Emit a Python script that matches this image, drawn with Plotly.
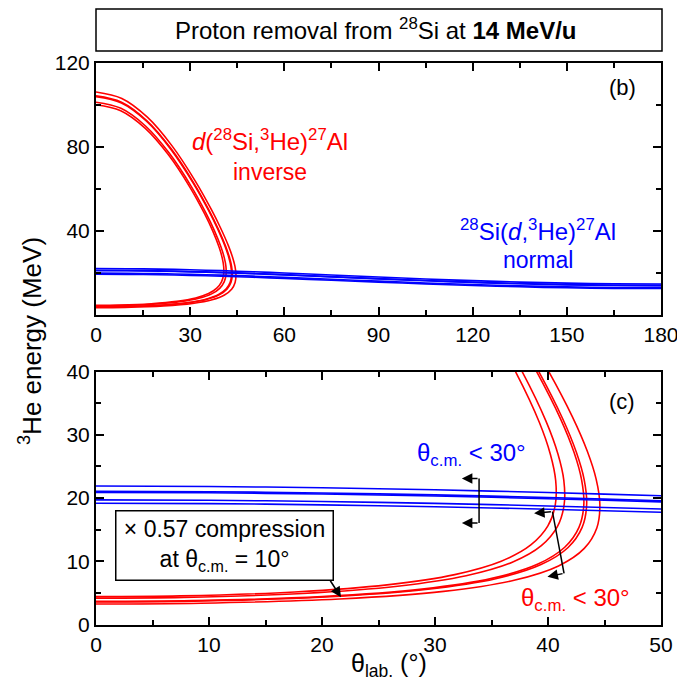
import plotly.graph_objects as go

# ---------------- data ----------------
# Normal kinematics 28Si(d,3He)27Al : lab angle (deg) vs 3He energy (MeV), five 27Al states
norm_theta = [0, 10, 20, 30, 40, 50, 60, 75, 90, 105, 120, 135, 150, 165, 180]
norm_E_s0 = [21.89, 21.82, 21.62, 21.30, 20.87, 20.35, 19.77, 18.82, 17.85, 16.93, 16.11, 15.44, 14.95, 14.65, 14.55]
norm_E_s1 = [21.06, 21.00, 20.80, 20.49, 20.07, 19.56, 18.99, 18.05, 17.10, 16.20, 15.41, 14.75, 14.27, 13.98, 13.88]
norm_E_s2 = [20.89, 20.82, 20.63, 20.31, 19.89, 19.39, 18.82, 17.89, 16.95, 16.05, 15.26, 14.61, 14.13, 13.83, 13.73]
norm_E_s3 = [19.70, 19.64, 19.45, 19.15, 18.74, 18.25, 17.70, 16.80, 15.89, 15.02, 14.25, 13.62, 13.16, 12.87, 12.78]
norm_E_s4 = [19.17, 19.11, 18.92, 18.62, 18.22, 17.74, 17.20, 16.32, 15.41, 14.56, 13.80, 13.18, 12.72, 12.44, 12.35]

# Inverse kinematics d(28Si,3He)27Al : loci (lab angle, 3He energy), five 27Al states
inv_theta_s0 = [0, 8.23, 16.36, 24.23, 31.64, 36.69, 39.65, 42.14, 43.48, 44.26, 44.59, 44.32, 43.21, 40.93, 37.00, 30.76, 21.55, 9.29, 0]
inv_E_s0 = [105.97, 102.87, 93.95, 80.29, 63.53, 50.13, 41.32, 32.91, 27.39, 22.99, 18.93, 15.27, 12.03, 9.26, 6.99, 5.24, 4.03, 3.37, 3.25]
inv_theta_s1 = [0, 8.13, 16.14, 23.89, 31.16, 36.07, 38.92, 41.28, 42.51, 43.20, 43.42, 43.02, 41.78, 39.38, 35.37, 29.18, 20.27, 8.68, 0]
inv_E_s1 = [104.14, 101.11, 92.37, 79.00, 62.59, 49.48, 40.85, 32.61, 27.22, 22.90, 18.93, 15.35, 12.18, 9.47, 7.24, 5.53, 4.34, 3.70, 3.58]
inv_theta_s2 = [0, 8.11, 16.10, 23.82, 31.06, 35.94, 38.76, 41.10, 42.31, 42.97, 43.17, 42.74, 41.48, 39.06, 35.03, 28.85, 20.01, 8.56, 0]
inv_E_s2 = [103.77, 100.75, 92.06, 78.74, 62.40, 49.35, 40.75, 32.55, 27.18, 22.89, 18.93, 15.36, 12.21, 9.51, 7.29, 5.59, 4.41, 3.77, 3.65]
inv_theta_s3 = [0, 7.95, 15.77, 23.31, 30.33, 35.00, 37.68, 39.82, 40.88, 41.40, 41.43, 40.84, 39.41, 36.84, 32.75, 26.69, 18.30, 7.76, 0]
inv_E_s3 = [101.09, 98.17, 89.75, 76.86, 61.04, 48.40, 40.09, 32.15, 26.95, 22.79, 18.97, 15.51, 12.46, 9.84, 7.70, 6.05, 4.91, 4.29, 4.17]
inv_theta_s4 = [0, 7.88, 15.62, 23.08, 29.99, 34.58, 37.18, 39.23, 40.22, 40.68, 40.65, 39.99, 38.48, 35.86, 31.75, 25.76, 17.59, 7.43, 0]
inv_E_s4 = [99.89, 97.01, 88.72, 76.02, 60.44, 47.99, 39.79, 31.98, 26.85, 22.76, 18.99, 15.58, 12.57, 10.00, 7.89, 6.26, 5.14, 4.52, 4.41]

# tick labels
top_x_ticks = [0, 30, 60, 90, 120, 150, 180]
top_x_minor = [15, 45, 75, 105, 135, 165]
top_y_ticks = [40, 80, 120]
top_y_minor = [20, 60, 100]
bot_x_ticks = [0, 10, 20, 30, 40, 50]
bot_x_minor = [5, 15, 25, 35, 45]
bot_y_ticks = [0, 10, 20, 30, 40]
bot_y_minor = [5, 15, 25, 35]

# ---------------- figure ----------------
W, H = 677, 689
RED = "#ff0000"
BLUE = "#0000ff"
FONT = "Liberation Sans, Arial, sans-serif"

def px_x(p):
    return p / W

def px_y(p):
    return 1 - p / H

fig = go.Figure()

inv_sets = [(inv_theta_s0, inv_E_s0), (inv_theta_s1, inv_E_s1), (inv_theta_s2, inv_E_s2),
            (inv_theta_s3, inv_E_s3), (inv_theta_s4, inv_E_s4)]
norm_sets = [norm_E_s0, norm_E_s1, norm_E_s2, norm_E_s3, norm_E_s4]

for xa, ya in (("x", "y"), ("x2", "y2")):
    for th, en in inv_sets:
        fig.add_trace(go.Scatter(x=th, y=en, mode="lines", xaxis=xa, yaxis=ya,
                                 line=dict(color=RED, width=1.6, shape="spline", smoothing=1.0),
                                 showlegend=False, hoverinfo="skip"))
    for en in norm_sets:
        fig.add_trace(go.Scatter(x=norm_theta, y=en, mode="lines", xaxis=xa, yaxis=ya,
                                 line=dict(color=BLUE, width=1.6, shape="spline", smoothing=0.8),
                                 showlegend=False, hoverinfo="skip"))

def axis(rng, ticks, minor, domain, anchor):
    return dict(range=rng, domain=domain, anchor=anchor, tickmode="array", tickvals=ticks,
                ticktext=[str(t) for t in ticks], automargin=False, ticklabeloverflow="allow",
                showline=True, linecolor="black", linewidth=2, mirror="allticks",
                ticks="inside", ticklen=8, tickwidth=1.5, tickcolor="black",
                showgrid=False, zeroline=False, fixedrange=True,
                tickfont=dict(family=FONT, size=21, color="black"),
                minor=dict(tickmode="array", tickvals=minor, ticks="inside", ticklen=5,
                           tickwidth=1.5, tickcolor="black", showgrid=False))

xdom = [px_x(96), px_x(661)]
top_dom = [px_y(314.5), px_y(62.5)]
bot_dom = [px_y(624.5), px_y(371.5)]

fig.update_layout(
    width=W, height=H,
    margin=dict(l=0, r=0, t=0, b=0, autoexpand=False),
    paper_bgcolor="white", plot_bgcolor="white",
    font=dict(family=FONT, color="black"),
    xaxis=axis([0, 180], top_x_ticks, top_x_minor, xdom, "y"),
    yaxis=axis([0, 120], top_y_ticks, top_y_minor, top_dom, "x"),
    xaxis2=axis([0, 50], bot_x_ticks, bot_x_minor, xdom, "y2"),
    yaxis2=axis([0, 40], bot_y_ticks, bot_y_minor, bot_dom, "x2"),
)

ann = []
shapes = []

# title box
shapes.append(dict(type="rect", xref="paper", yref="paper", x0=px_x(96), x1=px_x(662),
                   y0=px_y(51), y1=px_y(9), line=dict(color="black", width=1.5), fillcolor="white"))
ann.append(dict(xref="paper", yref="paper", x=px_x(376), y=px_y(29.5), showarrow=False,
                text="Proton removal from <sup>28</sup>Si at <b>14 MeV/u</b>",
                font=dict(size=24, color="black"), xanchor="center", yanchor="middle"))

# axis titles
ann.append(dict(xref="paper", yref="paper", x=px_x(30), y=px_y(341), showarrow=False,
                text="<sup>3</sup>He energy (MeV)", textangle=-90,
                font=dict(size=26, color="black"), xanchor="center", yanchor="middle"))
ann.append(dict(xref="paper", yref="paper", x=px_x(389), y=px_y(665), showarrow=False,
                text="θ<sub>lab.</sub> (°)",
                font=dict(size=25, color="black"), xanchor="center", yanchor="middle"))

# panel labels
ann.append(dict(xref="x", yref="y", x=167.6, y=107.9, text="(b)", showarrow=False,
                font=dict(size=22, color="black")))
ann.append(dict(xref="x2", yref="y2", x=46.55, y=35.2, text="(c)", showarrow=False,
                font=dict(size=22, color="black")))

# reaction labels (top panel)
ann.append(dict(xref="x", yref="y", x=55.5, y=83.1, showarrow=False,
                text="<i>d</i>(<sup>28</sup>Si,<sup>3</sup>He)<sup>27</sup>Al",
                font=dict(size=24, color=RED)))
ann.append(dict(xref="x", yref="y", x=55.4, y=68.0, showarrow=False, text="inverse",
                font=dict(size=23, color=RED)))
ann.append(dict(xref="x", yref="y", x=140.7, y=40.2, showarrow=False,
                text="<sup>28</sup>Si(<i>d</i>,<sup>3</sup>He)<sup>27</sup>Al",
                font=dict(size=24, color=BLUE)))
ann.append(dict(xref="x", yref="y", x=140.8, y=26.0, showarrow=False, text="normal",
                font=dict(size=23, color=BLUE)))

# bottom panel labels
ann.append(dict(xref="x2", yref="y2", x=33.25, y=26.9, showarrow=False,
                text="θ<sub>c.m.</sub> < 30°", font=dict(size=24, color=BLUE)))
ann.append(dict(xref="x2", yref="y2", x=42.44, y=3.9, showarrow=False,
                text="θ<sub>c.m.</sub> < 30°", font=dict(size=24, color=RED)))

# compression box
ann.append(dict(xref="paper", yref="paper", x=px_x(224.5), y=px_y(545), showarrow=False,
                text="× 0.57 compression<br>at θ<sub>c.m.</sub> = 10°",
                font=dict(size=23, color="black"), bgcolor="white", bordercolor="black",
                borderwidth=1.5, borderpad=2, width=212, height=64,
                xanchor="center", yanchor="middle"))

def arrow(x, y, ax, ay):
    return dict(xref="x2", yref="y2", axref="x2", ayref="y2", x=x, y=y, ax=ax, ay=ay,
                text="", showarrow=True, arrowhead=2, arrowsize=1.4, arrowwidth=1.5,
                arrowcolor="black", standoff=0, startstandoff=0)

# compression arrow
ann.append(arrow(21.68, 4.3, 20.65, 7.15))
# blue bracket
shapes.append(dict(type="line", xref="x2", yref="y2", x0=33.9, x1=33.9, y0=16.05, y1=23.1,
                   line=dict(color="black", width=1.5)))
ann.append(arrow(32.38, 23.1, 33.9, 23.1))
ann.append(arrow(32.38, 16.05, 33.9, 16.05))
# red bracket
shapes.append(dict(type="line", xref="x2", yref="y2", x0=40.39, x1=41.42, y0=17.83, y1=8.09,
                   line=dict(color="black", width=1.5)))
ann.append(arrow(38.77, 17.58, 40.39, 17.83))
ann.append(arrow(39.95, 7.56, 41.42, 8.09))

fig.update_layout(annotations=ann, shapes=shapes)

# remove the default page margin so the 677x689 figure fills the window exactly
fig.write_html("out.html", config={"displayModeBar": False},
               post_script="document.body.style.margin='0';document.body.style.overflow='hidden';")
